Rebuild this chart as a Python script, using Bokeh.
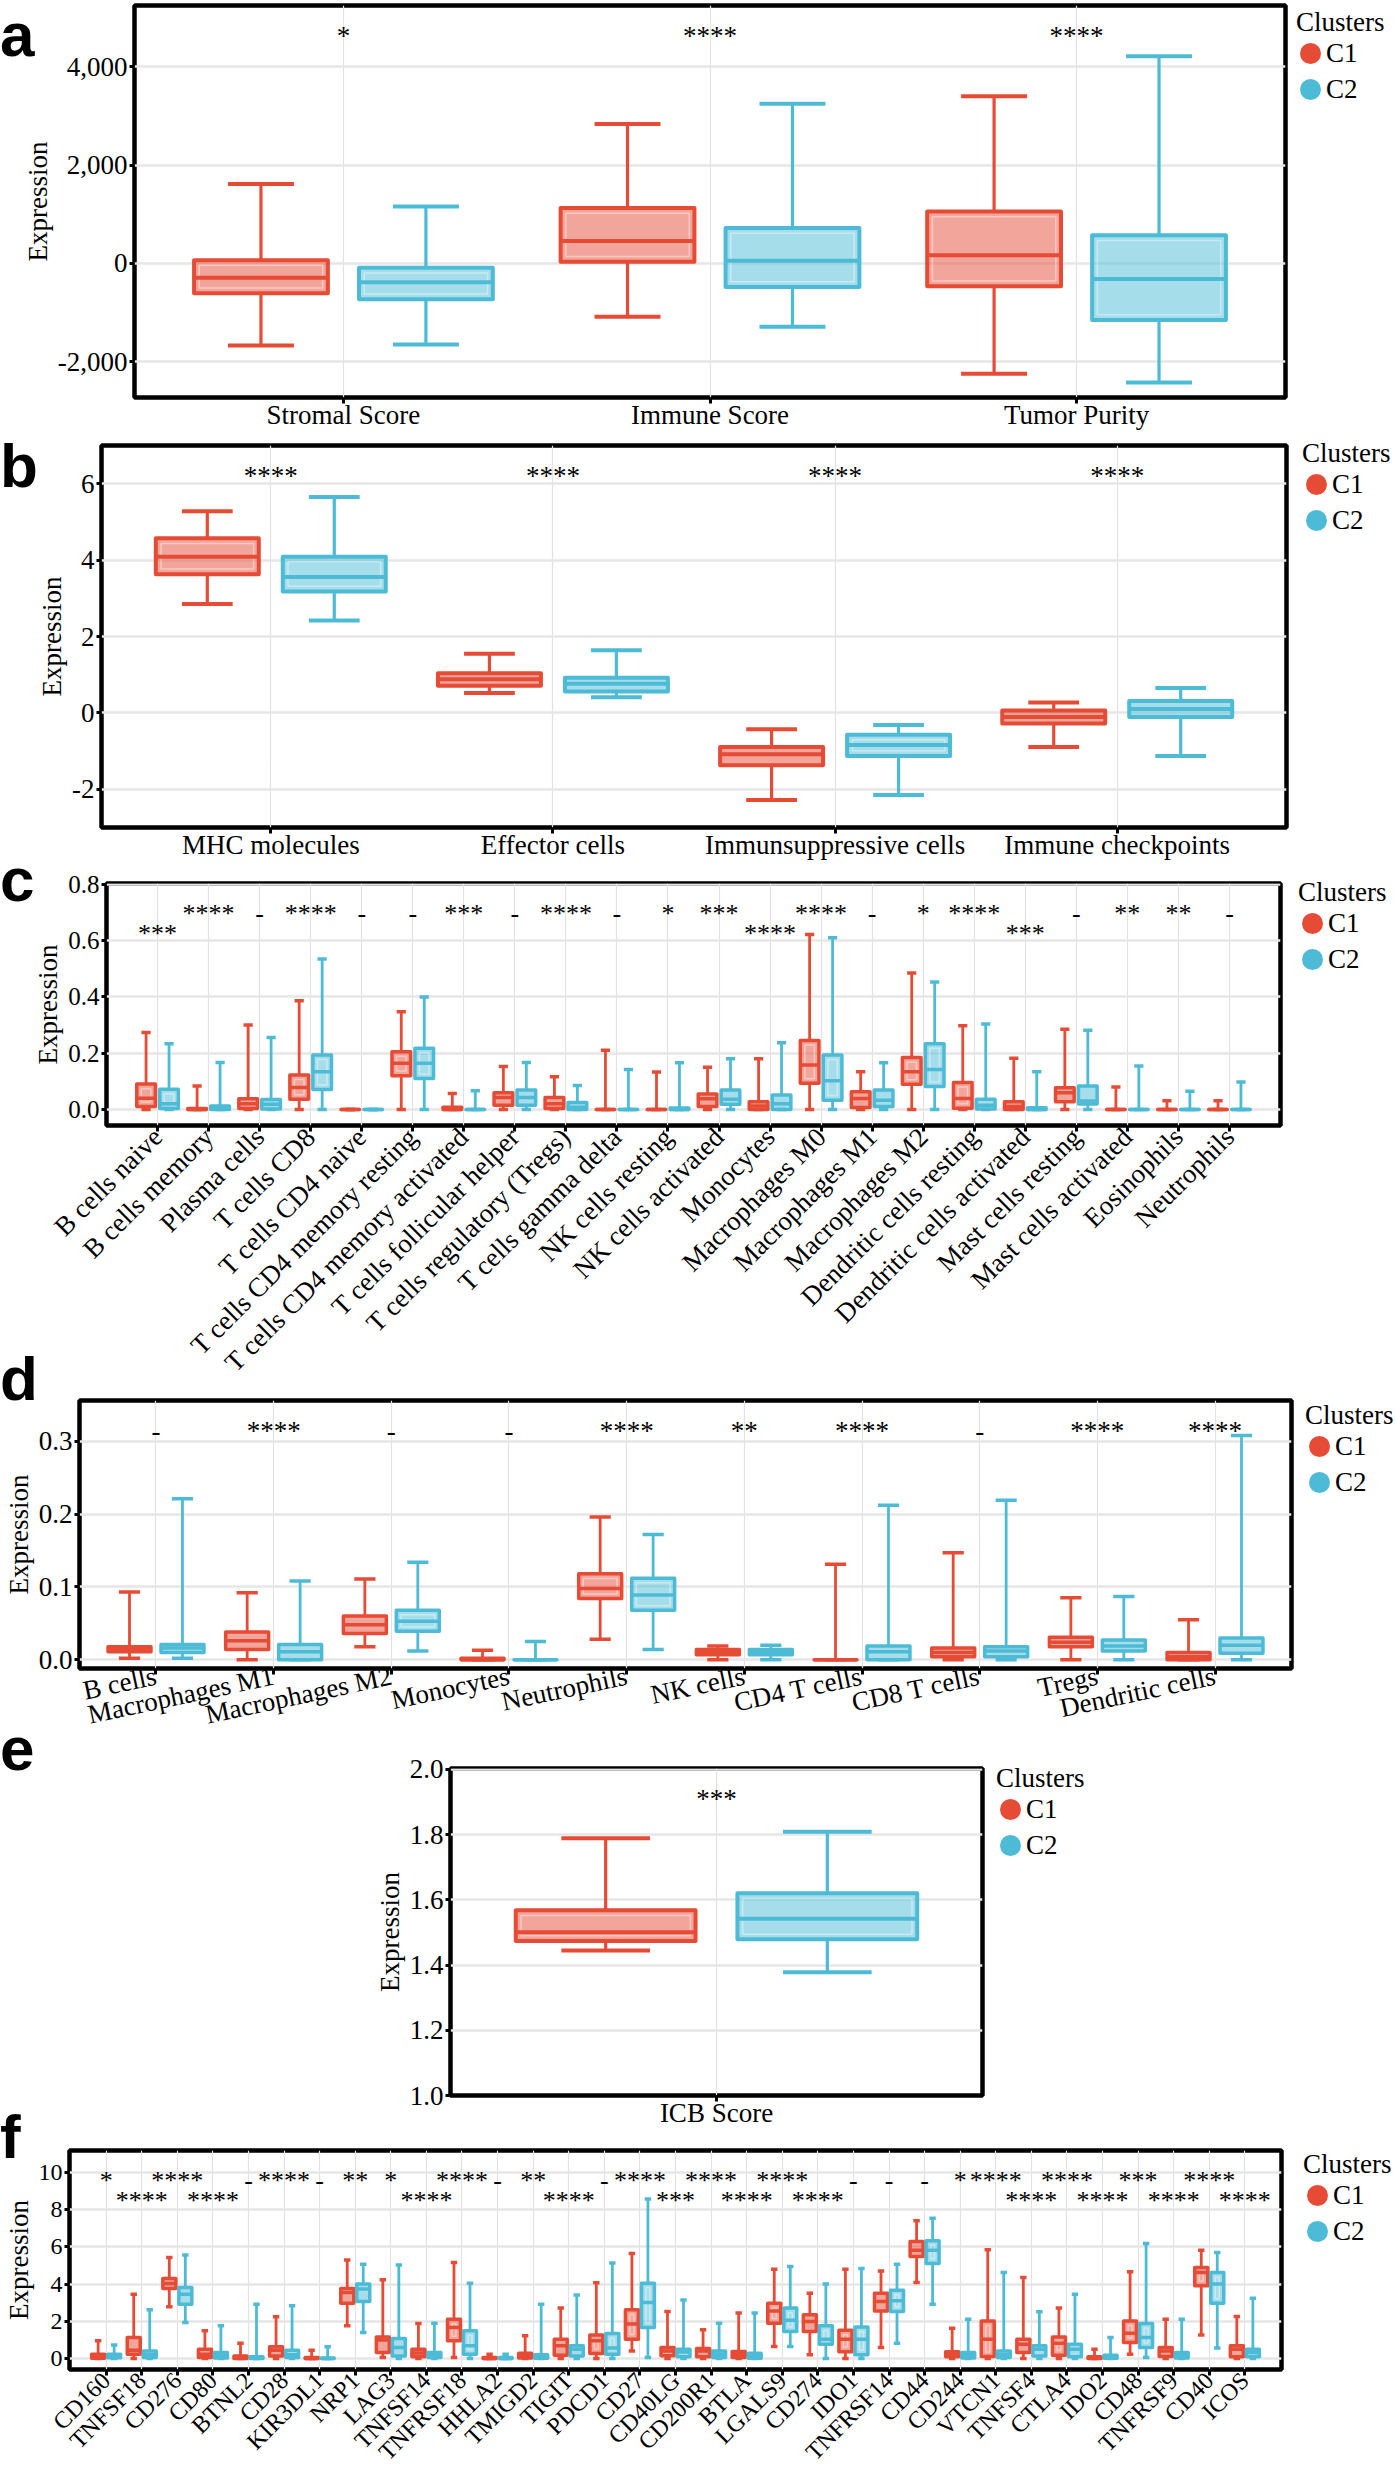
import numpy as np
from bokeh.plotting import figure
from bokeh.models import (FactorRange, Range1d, ColumnDataSource, Div,
                          FixedTicker, NumeralTickFormatter, PrintfTickFormatter)
from bokeh.transform import dodge
from bokeh.embed import file_html
from bokeh.resources import INLINE
from bokeh.core.properties import value

RED = "#E64B35"
BLUE = "#4DBBD5"
SERIF = "Liberation Serif"

# ---------------- data (each box: [low whisker, Q1, median, Q3, high whisker]) ----------------
a_cats = ["Stromal Score", "Immune Score", "Tumor Purity"]
a_c1 = [[-1670, -606, -290, 67, 1616], [-1084, 34, 458, 1125, 2835], [-2242, -465, 168, 1057, 3400]]
a_c2 = [[-1650, -727, -384, -88, 1158], [-1286, -478, 54, 720, 3246], [-2424, -1151, -316, 572, 4215]]
a_sig = ["*", "****", "****"]
a_row = [1, 1, 1]
a_ticks = [-2000, 0, 2000, 4000]

b_cats = ["MHC molecules", "Effector cells", "Immunsuppressive cells", "Immune checkpoints"]
b_c1 = [[2.85, 3.63, 4.09, 4.57, 5.28], [0.52, 0.71, 0.88, 1.04, 1.55],
        [-2.28, -1.37, -1.08, -0.89, -0.43], [-0.89, -0.28, -0.11, 0.06, 0.27]]
b_c2 = [[2.42, 3.18, 3.56, 4.09, 5.65], [0.41, 0.56, 0.76, 0.92, 1.64],
        [-2.15, -1.13, -0.84, -0.57, -0.32], [-1.13, -0.11, 0.10, 0.31, 0.65]]
b_sig = ["****", "****", "****", "****"]
b_row = [1, 1, 1, 1]
b_ticks = [-2, 0, 2, 4, 6]

c_cats = ["B cells naive", "B cells memory", "Plasma cells", "T cells CD8", "T cells CD4 naive",
          "T cells CD4 memory resting", "T cells CD4 memory activated", "T cells follicular helper",
          "T cells regulatory (Tregs)", "T cells gamma delta", "NK cells resting", "NK cells activated",
          "Monocytes", "Macrophages M0", "Macrophages M1", "Macrophages M2", "Dendritic cells resting",
          "Dendritic cells activated", "Mast cells resting", "Mast cells activated", "Eosinophils",
          "Neutrophils"]
c_c1 = [[0, 0.010, 0.040, 0.090, 0.273], [0, 0, 0, 0.003, 0.083], [0, 0.003, 0.020, 0.038, 0.300],
        [0, 0.036, 0.078, 0.122, 0.386], [0, 0, 0, 0, 0], [0, 0.120, 0.164, 0.205, 0.347],
        [0, 0, 0, 0.008, 0.057], [0, 0.015, 0.042, 0.059, 0.152], [0, 0.003, 0.020, 0.042, 0.116],
        [0, 0, 0, 0, 0.210], [0, 0, 0, 0, 0.133], [0, 0.010, 0.038, 0.055, 0.150],
        [0, 0, 0.012, 0.027, 0.180], [0, 0.093, 0.158, 0.245, 0.621], [0, 0.007, 0.039, 0.063, 0.134],
        [0, 0.089, 0.134, 0.184, 0.484], [0, 0.004, 0.039, 0.096, 0.297], [0, 0, 0.010, 0.027, 0.182],
        [0, 0.027, 0.059, 0.077, 0.285], [0, 0, 0, 0, 0.080], [0, 0, 0, 0, 0.031], [0, 0, 0, 0, 0.031]]
c_c2 = [[0, 0.003, 0.020, 0.072, 0.233], [0, 0, 0.002, 0.012, 0.167], [0, 0.002, 0.018, 0.035, 0.255],
        [0, 0.071, 0.134, 0.193, 0.534], [0, 0, 0, 0, 0], [0, 0.110, 0.164, 0.217, 0.399],
        [0, 0, 0, 0, 0.066], [0, 0.015, 0.042, 0.069, 0.167], [0, 0, 0.008, 0.025, 0.085],
        [0, 0, 0, 0, 0.142], [0, 0, 0, 0.005, 0.166], [0, 0.018, 0.036, 0.069, 0.180],
        [0, 0, 0.020, 0.051, 0.237], [0, 0.033, 0.102, 0.193, 0.609], [0, 0.010, 0.033, 0.069, 0.166],
        [0, 0.081, 0.142, 0.233, 0.452], [0, 0.002, 0.015, 0.036, 0.303], [0, 0, 0, 0.006, 0.134],
        [0, 0.019, 0.030, 0.083, 0.281], [0, 0, 0, 0, 0.154], [0, 0, 0, 0, 0.065], [0, 0, 0, 0, 0.097]]
c_sig = ["***", "****", "-", "****", "-", "-", "***", "-", "****", "-", "*", "***", "****", "****",
         "-", "*", "****", "***", "-", "**", "**", "-"]
c_row = [2, 1, 1, 1, 1, 1, 1, 1, 1, 1, 1, 1, 2, 1, 1, 1, 1, 2, 1, 1, 1, 1]
c_ticks = [0.0, 0.2, 0.4, 0.6, 0.8]

d_cats = ["B cells", "Macrophages M1", "Macrophages M2", "Monocytes", "Neutrophils", "NK cells",
          "CD4 T cells", "CD8 T cells", "Tregs", "Dendritic cells"]
d_c1 = [[0.002, 0.011, 0.014, 0.018, 0.093], [0, 0.014, 0.026, 0.038, 0.092], [0.018, 0.036, 0.048, 0.060, 0.111],
        [0, 0, 0, 0.002, 0.013], [0.028, 0.084, 0.098, 0.118, 0.196], [0, 0.007, 0.010, 0.014, 0.019],
        [0, 0, 0, 0, 0.131], [0, 0.004, 0.010, 0.016, 0.147], [0, 0.018, 0.024, 0.031, 0.085],
        [0, 0, 0.004, 0.010, 0.055]]
d_c2 = [[0.002, 0.010, 0.016, 0.021, 0.221], [0, 0, 0.011, 0.021, 0.108], [0.012, 0.039, 0.053, 0.068, 0.134],
        [0, 0, 0, 0, 0.025], [0.014, 0.068, 0.089, 0.112, 0.172], [0, 0.007, 0.010, 0.014, 0.020],
        [0, 0, 0.011, 0.019, 0.212], [0, 0.004, 0.012, 0.018, 0.219], [0, 0.012, 0.019, 0.027, 0.087],
        [0, 0.009, 0.020, 0.030, 0.308]]
d_sig = ["-", "****", "-", "-", "****", "**", "****", "-", "****", "****"]
d_row = [1] * 10
d_ticks = [0.0, 0.1, 0.2, 0.3]

e_cats = ["ICB Score"]
e_c1 = [[1.445, 1.474, 1.501, 1.568, 1.789]]
e_c2 = [[1.378, 1.479, 1.542, 1.620, 1.809]]
e_sig = ["***"]
e_row = [1]
e_ticks = [1.0, 1.2, 1.4, 1.6, 1.8, 2.0]

f_cats = ["CD160", "TNFSF18", "CD276", "CD80", "BTNL2", "CD28", "KIR3DL1", "NRP1", "LAG3", "TNFSF14",
          "TNFRSF18", "HHLA2", "TMIGD2", "TIGIT", "PDCD1", "CD27", "CD40LG", "CD200R1", "BTLA", "LGALS9",
          "CD274", "IDO1", "TNFRSF14", "CD44", "CD244", "VTCN1", "TNFSF4", "CTLA4", "IDO2", "CD48",
          "TNFRSF9", "CD40", "ICOS"]
f_c1 = [[0, 0.02, 0.10, 0.23, 0.95], [0, 0.23, 0.45, 1.13, 3.46], [2.78, 3.76, 4.03, 4.30, 5.43],
        [0, 0.05, 0.23, 0.50, 1.49], [0, 0, 0.05, 0.14, 0.82], [0, 0.14, 0.45, 0.63, 2.24],
        [0, 0, 0, 0.05, 0.45], [1.76, 2.97, 3.55, 3.76, 5.30], [0.05, 0.32, 0.99, 1.16, 4.23],
        [0, 0.10, 0.30, 0.50, 1.88], [0.05, 0.95, 1.67, 2.11, 5.16], [0, 0, 0, 0.05, 0.23],
        [0, 0.03, 0.15, 0.29, 1.22], [0, 0.18, 0.68, 1.04, 2.71], [0, 0.27, 0.95, 1.27, 4.07],
        [0.41, 1.04, 1.85, 2.62, 5.65], [0, 0.15, 0.40, 0.59, 2.53], [0, 0.10, 0.40, 0.54, 1.54],
        [0, 0.05, 0.20, 0.38, 2.44], [0.65, 1.90, 2.56, 2.97, 4.80], [0.20, 1.45, 1.99, 2.35, 3.51],
        [0, 0.36, 1.04, 1.52, 4.80], [0.59, 2.56, 3.06, 3.51, 4.71], [4.09, 5.48, 5.82, 6.29, 7.40],
        [0, 0.10, 0.23, 0.36, 1.63], [0, 0.11, 1.04, 2.02, 5.84], [0, 0.32, 0.77, 1.04, 4.35],
        [0, 0.18, 0.82, 1.16, 2.71], [0, 0, 0.02, 0.09, 0.50], [0.23, 0.86, 1.36, 2.02, 4.66],
        [0, 0.11, 0.41, 0.59, 2.11], [1.27, 3.91, 4.62, 4.89, 5.82], [0, 0.10, 0.50, 0.68, 2.26]]
f_c2 = [[0, 0.04, 0.12, 0.23, 0.73], [0, 0.05, 0.20, 0.41, 2.62], [1.94, 2.92, 3.46, 3.82, 5.56],
        [0, 0.03, 0.15, 0.32, 1.76], [0, 0, 0.02, 0.10, 2.92], [0, 0.05, 0.20, 0.45, 2.83],
        [0, 0, 0, 0.03, 0.63], [1.40, 3.06, 3.73, 4.00, 5.07], [0, 0.14, 0.59, 1.08, 5.02],
        [0, 0.05, 0.15, 0.32, 1.90], [0, 0.23, 0.68, 1.49, 4.05], [0, 0, 0, 0.05, 0.23],
        [0, 0.01, 0.08, 0.20, 2.92], [0, 0.14, 0.50, 0.68, 3.42], [0, 0.23, 0.56, 1.34, 5.13],
        [0.05, 1.67, 3.01, 4.05, 8.57], [0, 0.10, 0.35, 0.50, 3.14], [0, 0.05, 0.23, 0.41, 1.90],
        [0, 0.02, 0.10, 0.29, 2.44], [0.65, 1.45, 2.06, 2.71, 4.95], [0, 0.77, 1.04, 1.76, 4.00],
        [0, 0.20, 1.04, 1.70, 4.84], [0.82, 2.53, 3.10, 3.67, 5.07], [2.92, 5.11, 5.82, 6.33, 7.54],
        [0, 0.03, 0.15, 0.32, 2.11], [0, 0.05, 0.20, 0.41, 4.62], [0, 0.14, 0.50, 0.68, 2.51],
        [0, 0.10, 0.50, 0.77, 3.46], [0, 0.02, 0.08, 0.18, 1.13], [0.05, 0.59, 1.13, 1.88, 6.18],
        [0, 0.03, 0.15, 0.32, 2.11], [0.56, 2.97, 4.00, 4.62, 5.70], [0, 0.10, 0.32, 0.50, 3.24]]
f_sig = ["*", "****", "****", "****", "-", "****", "-", "**", "*", "****", "****", "-", "**", "****",
         "-", "****", "***", "****", "****", "****", "****", "-", "-", "-", "*", "****", "****", "****",
         "****", "***", "****", "****", "****"]
f_row = [1, 2, 1, 2, 1, 1, 1, 1, 1, 2, 1, 1, 1, 2, 1, 1, 2, 1, 2, 1, 2, 1, 1, 1, 1, 1, 2, 1, 2, 1, 2, 1, 2]
f_ticks = [0, 2, 4, 6, 8, 10]

panel_letters = ["a", "b", "c", "d", "e", "f"]
legend_title = "Clusters"
legend_labels = ["C1", "C2"]

TOTAL_W = 1396
OFF = 0.225     # dodge offset of each cluster
BW = 0.365      # box width
CAP = 0.18      # whisker cap width


def make_panel(cats, c1, c2, sig, rows, yr, yticks, yfmt, ml, fw, top, fh, bottom, pad,
               xfont, yfont, sfont, angle=None, lw=4.0, xstand=-4):
    p = figure(x_range=FactorRange(*cats, range_padding=pad, range_padding_units="absolute"),
               y_range=Range1d(*yr), width=TOTAL_W, height=top + fh + bottom,
               min_border_left=ml, min_border_right=TOTAL_W - ml - fw,
               min_border_top=top, min_border_bottom=bottom,
               output_backend="svg", toolbar_location=None, title=None)
    n = len(cats)
    ppx = fw / (n + 2 * pad)
    ppy = fh / (yr[1] - yr[0])
    inset = lw * 1.3
    for stats, off, col in [(c1, -OFF, RED), (c2, OFF, BLUE)]:
        arr = np.array(stats, dtype=float)
        q1, q3 = arr[:, 1], arr[:, 3]
        big = (q3 - q1) * ppy > 4 * inset
        src = ColumnDataSource(dict(cat=cats, lo=arr[:, 0], q1=q1, med=arr[:, 2], q3=q3, hi=arr[:, 4],
                                    iq1=np.where(big, q1 + inset / ppy, np.nan),
                                    iq3=np.where(big, q3 - inset / ppy, np.nan)))
        xc = dodge("cat", off, range=p.x_range)
        p.segment(x0=xc, x1=xc, y0="q3", y1="hi", source=src, line_color=col, line_width=lw * 0.8)
        p.segment(x0=xc, x1=xc, y0="lo", y1="q1", source=src, line_color=col, line_width=lw * 0.8)
        for key in ("hi", "lo"):
            p.segment(x0=dodge("cat", off - CAP / 2, range=p.x_range),
                      x1=dodge("cat", off + CAP / 2, range=p.x_range),
                      y0=key, y1=key, source=src, line_color=col, line_width=lw)
        p.vbar(x=xc, width=BW, bottom="q1", top="q3", source=src, fill_color=col, fill_alpha=0.5,
               line_color=col, line_width=lw, line_join="round")
        p.vbar(x=xc, width=BW - 2 * inset / ppx, bottom="iq1", top="iq3", source=src, fill_color=None,
               line_color="white", line_alpha=0.4, line_width=1.5)
        p.segment(x0=dodge("cat", off - BW / 2, range=p.x_range),
                  x1=dodge("cat", off + BW / 2, range=p.x_range),
                  y0="med", y1="med", source=src, line_color=col, line_width=lw)

    # significance labels
    ys = [yr[1] - (30 if r == 1 else 50) / ppy for r in rows]
    p.text(x="cat", y="ys", text="sig", source=ColumnDataSource(dict(cat=cats, ys=ys, sig=sig)),
           text_font=value(SERIF), text_font_size=f"{sfont}px", text_align="center",
           text_baseline="alphabetic", text_color="black")

    # frame / axes / grid
    p.outline_line_color = "black"
    p.outline_line_width = 4.5
    for ax in (p.xaxis, p.yaxis):
        ax.axis_line_color = None
        ax.major_tick_in = 0
        ax.major_tick_line_width = 3
        ax.major_tick_line_color = "black"
        ax.minor_tick_line_color = None
        ax.major_label_text_font = SERIF
        ax.major_label_text_color = "black"
    p.xaxis.major_tick_out = 6
    p.yaxis.major_tick_out = 5
    p.xaxis.major_label_standoff = xstand
    p.yaxis.major_label_standoff = 2
    p.xaxis.major_label_text_font_size = f"{xfont}px"
    p.yaxis.major_label_text_font_size = f"{yfont}px"
    p.xaxis.major_label_orientation = "horizontal" if angle is None else angle
    p.yaxis.ticker = FixedTicker(ticks=yticks)
    p.yaxis.formatter = yfmt
    p.yaxis.axis_label = "Expression"
    p.yaxis.axis_label_text_font = SERIF
    p.yaxis.axis_label_text_font_size = "27px"
    p.yaxis.axis_label_text_font_style = "normal"
    p.yaxis.axis_label_text_color = "black"
    p.yaxis.axis_label_standoff = 2
    p.ygrid.ticker = FixedTicker(ticks=yticks)
    p.ygrid.grid_line_color = "#E6E6E6"
    p.ygrid.grid_line_width = 2.5
    p.xgrid.grid_line_color = "#E2E2E2"
    p.xgrid.grid_line_width = 1.2
    return p


pa = make_panel(a_cats, a_c1, a_c2, a_sig, a_row, (-2727, 5246), a_ticks, NumeralTickFormatter(format="0,0"),
                ml=134, fw=1151, top=5, fh=392, bottom=45, pad=0.07, xfont=27, yfont=27, sfont=27, lw=4)
pb = make_panel(b_cats, b_c1, b_c2, b_sig, b_row, (-3.0, 7.0), b_ticks, PrintfTickFormatter(format="%d"),
                ml=101, fw=1185, top=3, fh=382, bottom=45, pad=0.1, xfont=27, yfont=27, sfont=27, lw=4)
pc = make_panel(c_cats, c_c1, c_c2, c_sig, c_row, (-0.057, 0.802), c_ticks, PrintfTickFormatter(format="%.1f"),
                ml=106, fw=1174, top=11, fh=242, bottom=273, pad=0.5, xfont=27, yfont=25, sfont=26,
                angle=np.pi / 4, lw=3.5, xstand=1)
pd_ = make_panel(d_cats, d_c1, d_c2, d_sig, d_row, (-0.012, 0.356), d_ticks, PrintfTickFormatter(format="%.1f"),
                 ml=78, fw=1213, top=2, fh=268, bottom=86, pad=0.15, xfont=27, yfont=27, sfont=27,
                 angle=np.radians(12), lw=3.5, xstand=1)
pe = make_panel(e_cats, e_c1, e_c2, e_sig, e_row, (1.0, 2.003), e_ticks, PrintfTickFormatter(format="%.1f"),
                ml=450, fw=532, top=14, fh=327, bottom=51, pad=0.04, xfont=27, yfont=27, sfont=27, lw=4)
pf = make_panel(f_cats, f_c1, f_c2, f_sig, f_row, (-0.59, 11.18), f_ticks, PrintfTickFormatter(format="%d"),
                ml=58, fw=1223, top=4, fh=219, bottom=111, pad=0.53, xfont=24, yfont=24, sfont=26,
                angle=np.pi / 4, lw=3.5, xstand=1)

# ---- panel letters and "Clusters" legends, absolutely placed on the page ----
overlays = []
letter_tops = [0, 431, 845, 1344, 1714, 2102]
for ch, top in zip(panel_letters, letter_tops):
    overlays.append(Div(text=f"<div style=\"font-family:'Liberation Sans',Arial,sans-serif;font-weight:bold;"
                             f"font-size:62px;line-height:69px;color:#000;margin:0;padding:0\">{ch}</div>",
                        width=50, height=69,
                        styles={"position": "absolute", "left": "0px", "top": f"{top}px", "margin": "0"}))

legend_pos = [(1296, 22), (1302, 453), (1298, 892), (1305, 1415), (996, 1778), (1303, 2164)]


def legend_html():
    rows = [f"<div style=\"height:26px;line-height:26px\">{legend_title}</div>"]
    for lab, col in zip(legend_labels, [RED, BLUE]):
        rows.append("<div style=\"height:36px;display:flex;align-items:center\">"
                    f"<span style=\"display:inline-block;width:21px;height:21px;border-radius:50%;"
                    f"background:{col};margin:0 5px 0 4px\"></span>{lab}</div>")
    return ("<div style=\"font-family:'Liberation Serif',serif;font-size:27px;color:#000;"
            "white-space:nowrap;margin:0;padding:0\">" + "".join(rows) + "</div>")


for x, y in legend_pos:
    overlays.append(Div(text=legend_html(), width=100, height=100,
                        styles={"position": "absolute", "left": f"{x}px", "top": f"{y - 13}px",
                                "margin": "0"}))

open("out.html", "w").write(file_html([pa, pb, pc, pd_, pe, pf] + overlays, INLINE))
